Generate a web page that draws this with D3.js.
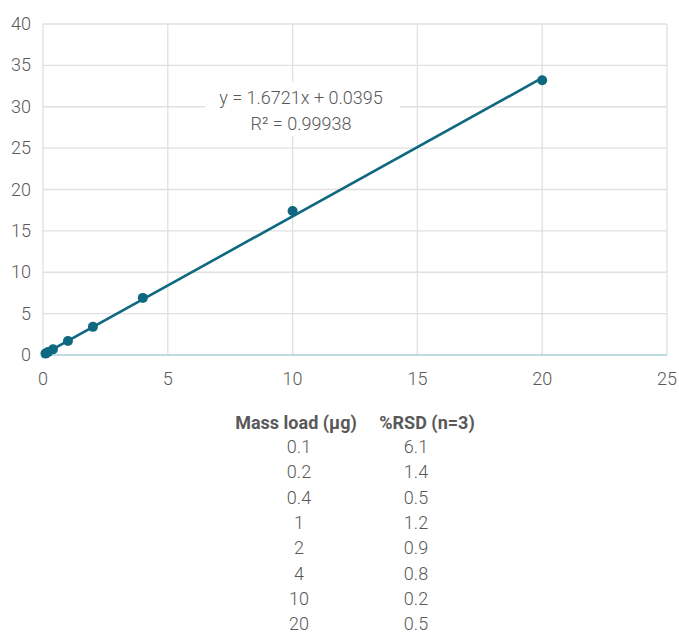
<!DOCTYPE html>
<html>
<head>
<meta charset="utf-8">
<script src="https://cdn.jsdelivr.net/npm/d3@7"></script>
<style>
  body { margin: 0; background: #fff; }
  svg text { font-family: "Roboto", sans-serif; font-weight: 300; fill: #595959; }
</style>
</head>
<body>
<svg id="chart" width="679" height="634"></svg>
<script>
// Data
var massLoad = [0.1, 0.2, 0.4, 1, 2, 4, 10, 20];
var response = [0.17, 0.35, 0.68, 1.7, 3.4, 6.9, 17.4, 33.2];
var rsd = ["6.1", "1.4", "0.5", "1.2", "0.9", "0.8", "0.2", "0.5"];
var massLabels = ["0.1", "0.2", "0.4", "1", "2", "4", "10", "20"];
var xTicks = [0, 5, 10, 15, 20, 25];
var yTicks = [0, 5, 10, 15, 20, 25, 30, 35, 40];
var slope = 1.6721, intercept = 0.0395, r2 = "0.99938";
var tableHeaders = ["Mass load (\u00b5g)", "%RSD (n=3)"];

var svg = d3.select("#chart");
var color = "#0d6880";

var x = d3.scaleLinear().domain([0, 25]).range([43, 667]);
var y = d3.scaleLinear().domain([0, 40]).range([355, 24]);

// grid
svg.append("g").selectAll("line")
   .data(yTicks.filter(function(d){ return d > 0; }))
   .enter().append("line")
   .attr("x1", x(0)).attr("x2", x(25))
   .attr("y1", function(d){ return y(d); }).attr("y2", function(d){ return y(d); })
   .style("stroke", "#e0e0e0").style("stroke-width", 1.3);

svg.append("g").selectAll("line")
   .data(xTicks)
   .enter().append("line")
   .attr("x1", function(d){ return x(d); }).attr("x2", function(d){ return x(d); })
   .attr("y1", y(0)).attr("y2", y(40))
   .style("stroke", "#e0e0e0").style("stroke-width", 1.3);

// x axis line
svg.append("line")
   .attr("x1", x(0)).attr("x2", x(25))
   .attr("y1", y(0)).attr("y2", y(0))
   .style("stroke", "#a9cfd9").style("stroke-width", 1.3);

// tick labels
svg.append("g").selectAll("text")
   .data(yTicks)
   .enter().append("text")
   .attr("x", 31).attr("y", function(d){ return y(d) + 6; })
   .attr("text-anchor", "end")
   .style("font-size", "18px")
   .text(function(d){ return d; });

svg.append("g").selectAll("text")
   .data(xTicks)
   .enter().append("text")
   .attr("x", function(d){ return x(d); }).attr("y", 385)
   .attr("text-anchor", "middle")
   .style("font-size", "18px")
   .text(function(d){ return d; });

var pts = massLoad.map(function(d, i){ return [d, response[i]]; });

// linear trendline
var xs = [0, d3.max(massLoad)];
svg.append("path")
   .attr("d", d3.line().x(function(d){ return x(d); }).y(function(d){ return y(slope * d + intercept); })(xs))
   .style("fill", "none").style("stroke", color).style("stroke-width", 2.6);

svg.append("g").selectAll("circle")
   .data(pts)
   .enter().append("circle")
   .attr("cx", function(d){ return x(d[0]); }).attr("cy", function(d){ return y(d[1]); })
   .attr("r", 5)
   .style("fill", color);

// equation label
svg.append("rect").attr("x", 205).attr("y", 82).attr("width", 195).attr("height", 54).style("fill", "#fff");
svg.append("text").attr("x", 301).attr("y", 104).attr("text-anchor", "middle").style("font-size", "18px")
   .text("y = " + slope + "x + " + intercept);
svg.append("text").attr("x", 301).attr("y", 130).attr("text-anchor", "middle").style("font-size", "18px")
   .text("R\u00b2 = " + r2);

// table
var colX = [296, 427];
svg.append("g").selectAll("text")
   .data(tableHeaders)
   .enter().append("text")
   .attr("x", function(d, i){ return colX[i]; }).attr("y", 429)
   .attr("text-anchor", "middle")
   .style("font-size", "18px").style("font-weight", "bold")
   .text(function(d){ return d; });

var rows = svg.append("g").selectAll("g")
   .data(massLabels)
   .enter().append("g")
   .attr("transform", function(d, i){ return "translate(0," + (453 + i * 25.3) + ")"; });
rows.append("text").attr("x", 299).attr("text-anchor", "middle").style("font-size", "18px")
   .text(function(d){ return d; });
rows.append("text").attr("x", 416).attr("text-anchor", "middle").style("font-size", "18px")
   .text(function(d, i){ return rsd[i]; });
</script>
</body>
</html>
